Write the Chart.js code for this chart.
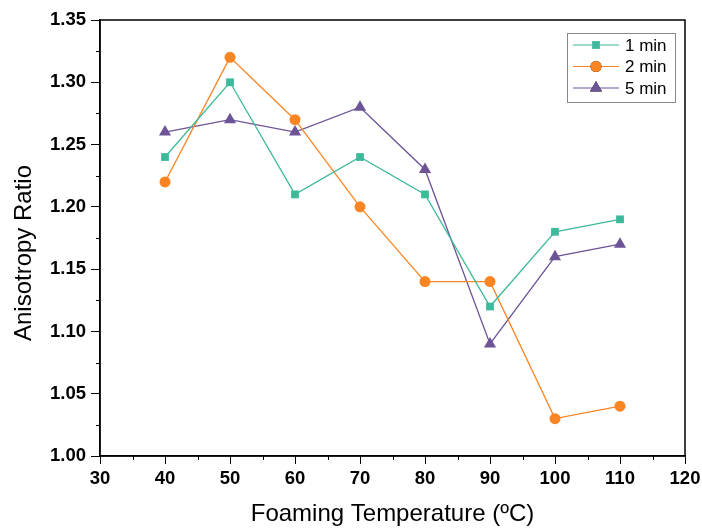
<!DOCTYPE html>
<html>
<head>
<meta charset="utf-8">
<script src="https://cdn.jsdelivr.net/npm/chart.js@4"></script>
<style>
  html, body { margin: 0; padding: 0; background: #fff; }
  #wrap { width: 702px; height: 529px; }
</style>
</head>
<body>
<div id="wrap"><canvas id="chart" width="702" height="529"></canvas></div>
<script>
// data
const temps = [40, 50, 60, 70, 80, 90, 100, 110];
const oneMin = [1.24, 1.30, 1.21, 1.24, 1.21, 1.12, 1.18, 1.19];
const twoMin = [1.22, 1.32, 1.27, 1.20, 1.14, 1.14, 1.03, 1.04];
const fiveMin = [1.26, 1.27, 1.26, 1.28, 1.23, 1.09, 1.16, 1.17];
const seriesNames = ["1 min", "2 min", "5 min"];
const yTitle = "Anisotropy Ratio";
const xTitle = "Foaming Temperature (ºC)";

const FONT = "'Liberation Sans', Arial, sans-serif";

function pts(ys) {
  return temps.map((t, i) => ({ x: t, y: ys[i] }));
}

// frame around the plot, minor ticks and the y title (sits a bit low in the original)
const framePlugin = {
  id: "frame",
  afterDraw(chart) {
    const { ctx, chartArea: a, scales } = chart;
    ctx.save();
    ctx.strokeStyle = "#000";
    ctx.lineWidth = 1.5;
    ctx.strokeRect(a.left, a.top, a.right - a.left, a.bottom - a.top);
    ctx.lineWidth = 1;
    ctx.beginPath();
    for (let v = 35; v < 120; v += 10) {
      const px = Math.round(scales.x.getPixelForValue(v)) + 0.5;
      ctx.moveTo(px, a.bottom);
      ctx.lineTo(px, a.bottom + 4);
    }
    for (let v = 1.025; v < 1.35; v += 0.05) {
      const py = Math.round(scales.y.getPixelForValue(v)) + 0.5;
      ctx.moveTo(a.left, py);
      ctx.lineTo(a.left - 4, py);
    }
    ctx.stroke();

    ctx.translate(24, 253);
    ctx.rotate(-Math.PI / 2);
    ctx.fillStyle = "#000";
    ctx.font = "24px " + FONT;
    ctx.textAlign = "center";
    ctx.textBaseline = "middle";
    ctx.fillText(yTitle, 0, 0);
    ctx.restore();
  }
};

// legend with line + marker samples, like the original
const legendPlugin = {
  id: "boxLegend",
  afterDraw(chart) {
    const { ctx } = chart;
    const x0 = 567, y0 = 33, w = 108, h = 69;
    ctx.save();
    ctx.fillStyle = "#fff";
    ctx.fillRect(x0, y0, w, h);
    ctx.strokeStyle = "#888";
    ctx.lineWidth = 1;
    ctx.strokeRect(x0 + 0.5, y0 + 0.5, w, h);
    ctx.font = "17px " + FONT;
    ctx.textBaseline = "middle";
    chart.data.datasets.forEach((ds, i) => {
      const cy = y0 + 12 + i * 21.5;
      ctx.strokeStyle = ds.borderColor;
      ctx.lineWidth = 1.2;
      ctx.beginPath();
      ctx.moveTo(x0 + 6, cy);
      ctx.lineTo(x0 + 52, cy);
      ctx.stroke();
      Chart.helpers.drawPoint(ctx, {
        pointStyle: ds.pointStyle,
        radius: ds.pointRadius,
        rotation: 0,
        borderWidth: 0
      }, x0 + 29, cy);
      ctx.fillStyle = ds.backgroundColor;
      ctx.fill();
      ctx.fillStyle = "#000";
      ctx.fillText(ds.label, x0 + 58, cy + 1);
    });
    ctx.restore();
  }
};

const datasets = [
  { label: seriesNames[0], data: pts(oneMin), borderColor: "#3db99b", backgroundColor: "#3db99b",
    pointStyle: "rect", pointRadius: 5.5 },
  { label: seriesNames[1], data: pts(twoMin), borderColor: "#fb8423", backgroundColor: "#fb8423",
    pointStyle: "circle", pointRadius: 5.5 },
  { label: seriesNames[2], data: pts(fiveMin), borderColor: "#6c5497", backgroundColor: "#6c5497",
    pointStyle: "triangle", pointRadius: 7 }
].map(d => Object.assign(d, { borderWidth: 1.3, pointBorderWidth: 0, tension: 0, showLine: true }));

new Chart(document.getElementById("chart"), {
  type: "scatter",
  data: { datasets },
  options: {
    responsive: false,
    animation: false,
    layout: { padding: { left: 0, right: 17, top: 20, bottom: 0 } },
    plugins: { legend: { display: false }, tooltip: { enabled: false } },
    scales: {
      x: {
        type: "linear", min: 30, max: 120,
        border: { display: true, color: "#000", width: 1.5 },
        grid: { drawOnChartArea: false, drawTicks: true, tickLength: 8, tickColor: "#000", tickWidth: 1 },
        ticks: { stepSize: 10, color: "#000", padding: 4, maxRotation: 0,
                 font: { family: FONT, size: 18.5, weight: "bold" } },
        title: { display: true, text: xTitle, color: "#000",
                 font: { family: FONT, size: 24 }, padding: { top: 12, bottom: 0 } },
        afterFit(s) { s.height = 73; s.paddingLeft = 0; s.paddingRight = 0; }
      },
      y: {
        type: "linear", min: 1.0, max: 1.35,
        border: { display: true, color: "#000", width: 1.5 },
        grid: { drawOnChartArea: false, drawTicks: true, tickLength: 9, tickColor: "#000", tickWidth: 1 },
        ticks: { stepSize: 0.05, color: "#000", padding: 5,
                 callback: v => v.toFixed(2),
                 font: { family: FONT, size: 18.5, weight: "bold" } },
        afterFit(s) { s.width = 100; }
      }
    }
  },
  plugins: [framePlugin, legendPlugin]
});
</script>
</body>
</html>
